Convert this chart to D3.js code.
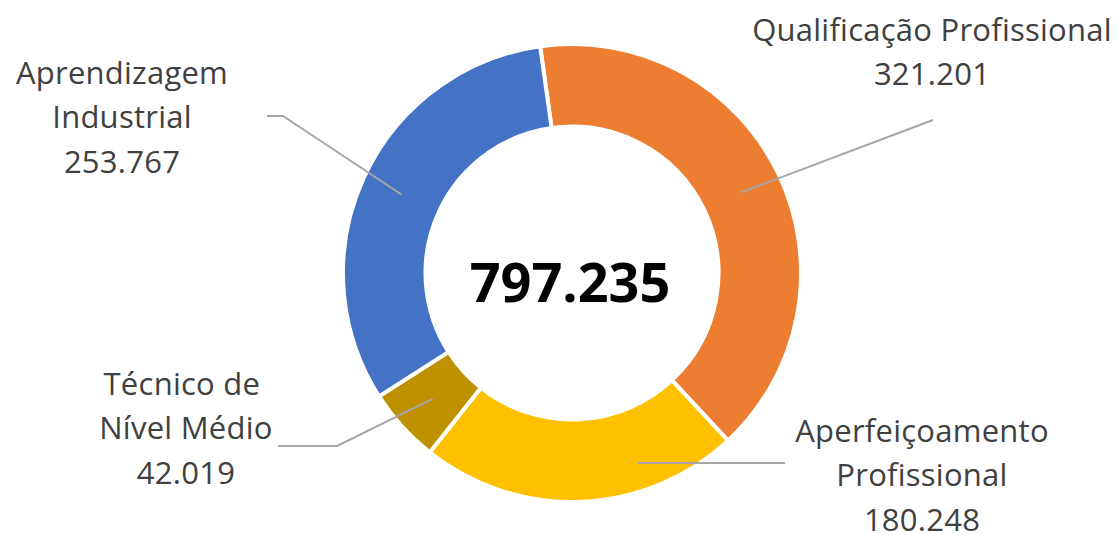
<!DOCTYPE html>
<html>
<head>
<meta charset="utf-8">
<script src="https://cdn.jsdelivr.net/npm/d3@7"></script>
<style>
  body { margin: 0; background: #fff; }
  svg { display: block; }
  .lbl { font-family: "Open Sans", sans-serif; font-size: 31px; letter-spacing: 0.25px; fill: #404040; white-space: pre; }
  .total { font-family: "Open Sans", sans-serif; font-size: 54px; font-weight: bold; fill: #000; }
</style>
</head>
<body>
<svg id="chart" width="1117" height="535"></svg>
<script>
// ---------------- DATA ----------------
const categories = ["Qualificação Profissional", "Aperfeiçoamento Profissional", "Técnico de Nível Médio", "Aprendizagem Industrial"];
const values = [321201, 180248, 42019, 253767];
// how the category names wrap in the chart
const categoryLines = [["Qualificação Profissional"], ["Aperfeiçoamento", "Profissional"], ["Técnico de ", "Nível Médio"], ["Aprendizagem", "Industrial"]];
const colors = ["#ED7D31", "#FFC000", "#BF9000", "#4472C4"];

// pt-BR number format (dot as thousands separator)
const br = d3.formatLocale({ decimal: ",", thousands: ".", grouping: [3], currency: ["R$", ""] });
const fmt = br.format(",");

// ---------------- LAYOUT ----------------
var svg = d3.select("#chart"),
  cx = 572, cy = 273,
  outerR = 229, innerR = 146.5,
  lineH = 44.3;

// label boxes: center x, first baseline, leader elbows (from label towards slice)
var labelPos = [
  { x: 932, y: 41, leader: [[933, 120]] },
  { x: 922, y: 442, leader: [[785, 463], [638, 463]], noCentroid: true },
  { x: 186, y: 395, leader: [[278, 446], [337, 446]] },
  { x: 122, y: 84, leader: [[267, 116], [283, 116]] }
];

var pie = d3.pie()
  .sort(null)
  .startAngle(-8 * Math.PI / 180)
  .endAngle((360 - 8) * Math.PI / 180);

var arc = d3.arc().innerRadius(innerR).outerRadius(outerR);

var arcs = pie(values);

var g = svg.append("g").attr("transform", "translate(" + cx + "," + cy + ")");

// slices
g.selectAll("path.slice")
  .data(arcs)
  .enter()
  .append("path")
  .attr("class", "slice")
  .attr("d", arc)
  .attr("fill", (d, i) => colors[i])
  .attr("stroke", "#fff")
  .attr("stroke-width", 4)
  .attr("stroke-linejoin", "miter");

// leader lines
var line = d3.line();
arcs.forEach(function(d, i) {
  var p = labelPos[i];
  var pts = p.leader.slice();
  if (!p.noCentroid) {
    var c = arc.centroid(d);
    pts.push([c[0] + cx, c[1] + cy]);
  }
  svg.append("path")
    .attr("d", line(pts))
    .attr("fill", "none")
    .attr("stroke", "#A6A6A6")
    .attr("stroke-width", 2);
});

// labels
arcs.forEach(function(d, i) {
  var p = labelPos[i];
  var lines = categoryLines[i].concat([fmt(values[i])]);
  var t = svg.append("text")
    .attr("class", "lbl")
    .attr("text-anchor", "middle");
  lines.forEach(function(s, j) {
    t.append("tspan")
      .attr("x", p.x)
      .attr("y", p.y + j * lineH)
      .text(s);
  });
});

// total in the hole
svg.append("text")
  .attr("class", "total")
  .attr("x", cx - 2)
  .attr("y", cy + 29)
  .attr("text-anchor", "middle")
  .text(fmt(d3.sum(values)));
</script>
</body>
</html>
